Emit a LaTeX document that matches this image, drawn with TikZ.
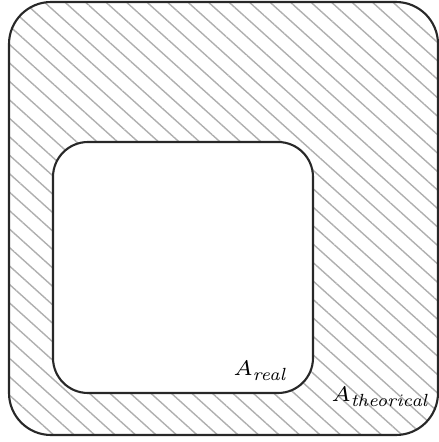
\documentclass[tikz,border=0pt]{standalone}
\usepackage{amsmath}
\usepackage{tikz}
\usetikzlibrary{patterns.meta}
\definecolor{hatchgray}{RGB}{175, 175, 175}
\definecolor{edgegray}{RGB}{40, 40, 40}

\begin{document}
\begin{tikzpicture}[x=0.01cm, y=-0.01cm]

\useasboundingbox (0, 0) rectangle (439, 442);

% Outer region hatched
\fill[pattern={Lines[angle=-42, distance=3.9pt, line width=0.4pt]}, pattern color=hatchgray, rounded corners=0.42cm] (9, 2) rectangle (438, 435);
\draw[edgegray, line width=0.6pt, rounded corners=0.42cm] (9, 2) rectangle (438, 435);

% Inner region left blank
\fill[white, rounded corners=0.35cm] (53, 142) rectangle (313, 393);
\draw[edgegray, line width=0.6pt, rounded corners=0.35cm] (53, 142) rectangle (313, 393);

% Labels
\node[font=\fontsize{6.5}{8}\selectfont, inner sep=0pt] (areal) at (261, 371) {$A_{\mathit{real}}$};
\node[font=\fontsize{6.5}{8}\selectfont, inner sep=0pt] (atheo) at (381, 397) {$A_{\mathit{theorical}}$};

\end{tikzpicture}
\end{document}
